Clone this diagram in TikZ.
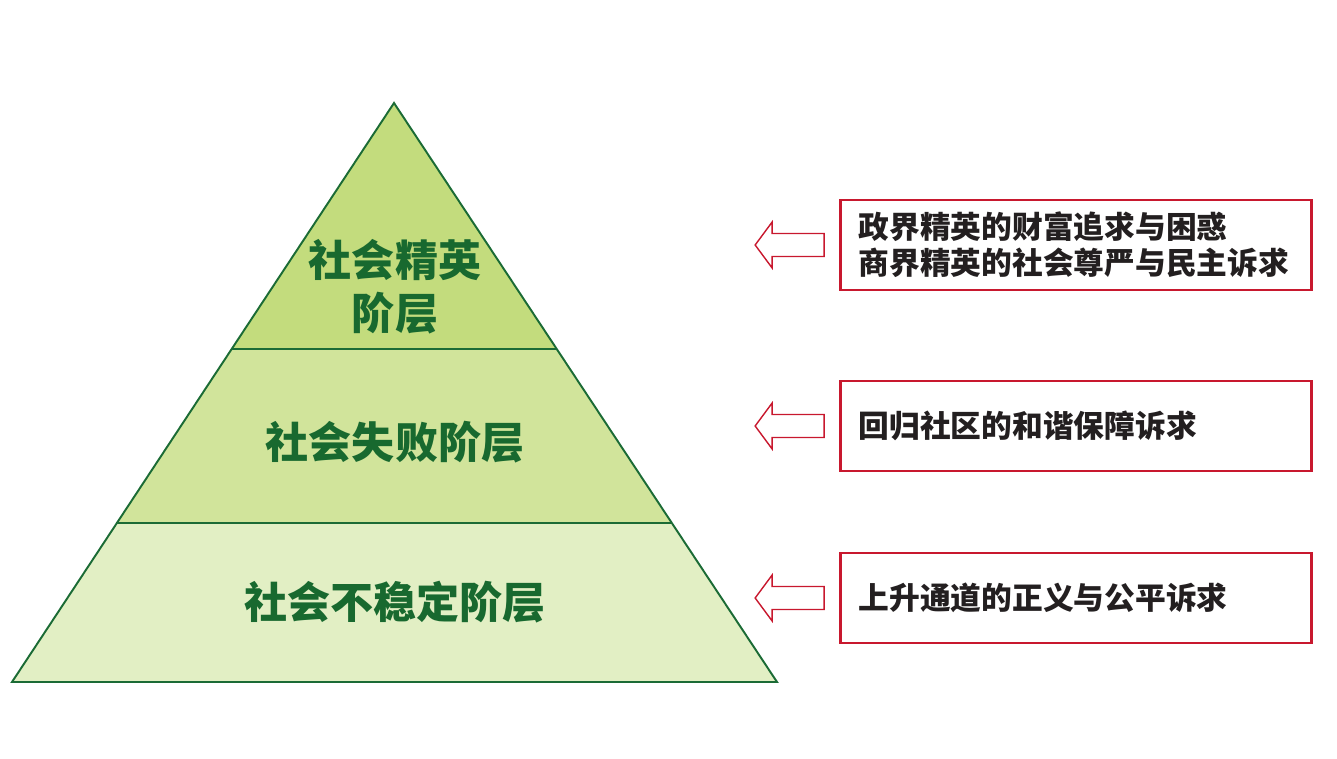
\documentclass[tikz,border=0pt]{standalone}
\usepackage{fontspec}
\newfontfamily\cjk{Noto Sans CJK SC}
\usepackage{tikz}
\usetikzlibrary{calc}
\usepackage{xcolor}
\definecolor{pyrtop}{HTML}{C3DC7D}
\definecolor{pyrmid}{HTML}{D1E49B}
\definecolor{pyrbot}{HTML}{E2EFC4}
\definecolor{pyredge}{HTML}{1B6B35}
\definecolor{pyrtext}{HTML}{18692F}
\definecolor{claimred}{HTML}{C8182E}
\definecolor{claimtext}{HTML}{231F20}

\begin{document}
\begin{tikzpicture}[
  x=0.02cm, y=-0.02cm,
  layer/.style={font=\cjk\bfseries\fontsize{24.5}{30}\selectfont,
    text=pyrtext, align=center},
  claim/.style={draw=claimred, line width=1.6pt, minimum height=1.8cm,
    text width=8.7cm, inner xsep=0.36cm, inner ysep=0pt, align=left,
    font=\cjk\bfseries\fontsize{17.5}{20.5}\selectfont, text=claimtext},
  hollow/.style={draw=claimred, line width=0.8pt, fill=white}
]
  \useasboundingbox (0,0) rectangle (1337,759);

  % Pyramid layers
  \fill[pyrtop] (394,103) -- (232,349) -- (556,349) -- cycle;
  \fill[pyrmid] (232,349) -- (556,349) -- (671,523) -- (117,523) -- cycle;
  \fill[pyrbot] (117,523) -- (671,523) -- (777,682) -- (12,682) -- cycle;
  \draw[pyredge, line width=0.8pt] (232,349) -- (556,349);
  \draw[pyredge, line width=0.8pt] (117,523) -- (671,523);
  \draw[pyredge, line width=1.1pt] (394,103) -- (12,682) -- (777,682) -- cycle;

  % Layer names
  \node[layer] (elite)    at (395,287) {社会精英\\阶层};
  \node[layer] (failed)   at (395,442) {社会失败阶层};
  \node[layer] (unstable) at (395,602) {社会不稳定阶层};

  % Claims
  \node[claim] (c1) at (1076,245) {政界精英的财富追求与困惑\\商界精英的社会尊严与民主诉求};
  \node[claim] (c2) at (1076,426) {回归社区的和谐保障诉求};
  \node[claim] (c3) at (1076,598) {上升通道的正义与公平诉求};

  % Hollow arrows
  \foreach \c in {c1,c2,c3}
    \draw[hollow] ($(\c.west)+(-15,-11.5)$) -- ($(\c.west)+(-67,-11.5)$)
      -- ($(\c.west)+(-67,-23)$) -- ($(\c.west)+(-84,0)$)
      -- ($(\c.west)+(-67,23)$) -- ($(\c.west)+(-67,11.5)$)
      -- ($(\c.west)+(-15,11.5)$) -- cycle;
\end{tikzpicture}
\end{document}
